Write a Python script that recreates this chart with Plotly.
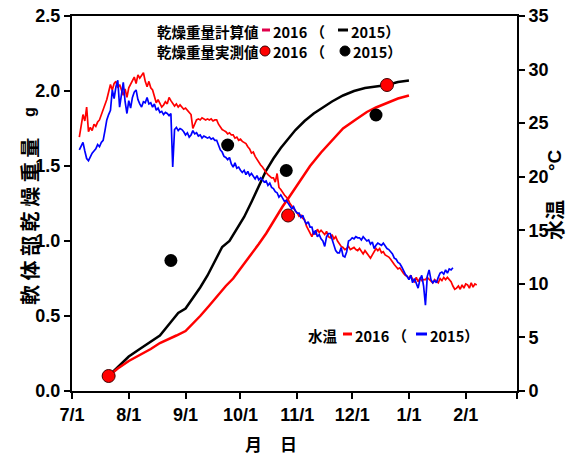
import pandas as pd
import plotly.graph_objects as go

# ---- data -------------------------------------------------------------
BASE = pd.Timestamp("2016-07-01")

# water temperature (°C), daily values starting on 7/5
temp_2016_start = "2016-07-05"
temp_2016 = [
    23.7, 24.6, 25.8, 25.2, 26.5, 24.2, 24.6, 24.3, 24.9, 24.7,
    25.1, 25.3, 25.8, 26.1, 26.6, 27.2, 27.9, 28.6, 28.1, 28.7,
    28.9, 28.3, 28.6, 28.0, 27.6, 28.2, 27.4, 28.3, 28.6, 29.0,
    29.3, 28.7, 29.5, 29.2, 29.4, 29.7, 28.9, 28.4, 28.9, 28.3,
    28.1, 27.6, 26.9, 27.2, 26.8, 26.5, 26.7, 27.0, 26.8, 27.4,
    27.1, 26.9, 26.6, 26.8, 26.5, 26.7, 26.5, 26.3, 26.4, 26.2,
    26.0, 25.8, 24.5, 24.9, 25.3, 25.4, 25.3, 25.5, 25.4, 25.3,
    25.4, 25.3, 25.4, 25.2, 25.3, 25.3, 24.9, 24.6, 24.4, 24.3,
    24.2, 24.0, 24.1, 23.9, 23.9, 23.6, 23.7, 23.4, 23.5, 23.3,
    23.2, 23.1, 22.8, 22.6, 22.2, 22.3, 21.9, 21.6, 21.3, 21.1,
    20.9, 20.6, 20.4, 20.2, 20.0, 19.9, 19.9, 19.5, 20.3, 19.0,
    18.8, 18.5, 18.3, 18.1, 17.9, 17.5, 17.3, 17.0, 16.9, 16.6,
    16.3, 16.4, 16.1, 16.0, 15.4, 15.1, 14.7, 14.4, 14.9, 14.6,
    15.1, 14.8, 15.0, 14.8, 14.6, 14.9, 14.4, 14.3, 14.6, 14.2,
    14.4, 14.0, 13.7, 13.5, 13.4, 13.2, 13.3, 13.5, 13.2, 13.3,
    13.4, 13.2, 13.1, 13.3, 13.0, 12.8, 13.1, 12.9, 12.6, 12.4,
    12.7, 13.0, 13.3, 13.1, 13.3, 12.9, 13.0, 12.7, 12.6, 12.5,
    12.3, 12.0, 11.8, 11.6, 11.4, 11.5, 11.2, 11.0, 10.8, 10.7,
    10.5, 10.8, 10.4, 10.2, 10.6, 10.2, 10.5, 10.3, 10.4, 10.4,
    10.6, 10.4, 10.3, 10.1, 10.4, 10.2, 10.1, 10.5, 10.3, 10.6,
    10.4, 10.6, 10.4, 10.2, 9.8, 9.5, 9.6, 9.8, 9.5, 9.9,
    9.6, 10.0, 9.9, 9.6, 10.1, 9.7, 10.0, 9.9,
]

temp_2015_start = "2016-07-05"
temp_2015 = [
    22.5, 22.9, 23.2, 22.4, 21.7, 21.5, 21.9, 22.2, 22.4, 22.6,
    23.0, 22.8, 23.2, 23.4, 24.3, 25.3, 25.8, 26.2, 28.1, 27.3,
    28.4, 29.0, 26.5, 27.8, 28.8, 27.0, 25.9, 27.1, 26.4, 27.4,
    27.9, 28.1, 27.2, 26.8, 26.5, 27.0, 26.9, 27.4, 26.8, 26.9,
    26.5, 26.8, 26.2, 26.4, 26.0, 26.1, 25.8, 26.0, 25.9, 25.7,
    25.9, 20.9, 24.4, 24.6, 24.3, 24.5, 24.4, 24.2, 23.9, 24.1,
    23.7, 23.9, 24.3, 24.0, 24.1, 23.8, 23.9, 23.6, 23.8, 23.7,
    23.6, 23.7, 23.5, 23.6, 23.4, 23.4, 23.0, 22.5, 22.3, 21.9,
    21.8, 21.6, 21.8, 21.2, 20.9, 21.3, 20.8, 20.9, 20.6, 20.4,
    20.6, 20.2, 20.5, 20.1, 20.3, 20.0, 19.8, 20.1, 19.7, 19.9,
    19.7, 19.5, 19.6, 19.2, 19.4, 19.0, 18.9, 18.6, 18.5, 18.1,
    18.3, 18.0, 17.7, 17.8, 17.5, 17.3, 17.0, 17.2, 16.8, 16.6,
    16.6, 16.2, 16.4, 15.9, 15.6, 15.8, 15.3, 15.3, 14.6, 15.0,
    14.4, 14.6, 14.2, 14.0, 13.5, 14.4, 14.7, 14.7, 14.2, 13.6,
    13.1, 12.9, 12.9, 13.4, 12.6, 12.5, 13.0, 14.0, 14.1, 14.3,
    14.2, 14.4, 14.3, 14.3, 14.1, 14.4, 14.2, 14.0, 14.1, 13.7,
    13.9, 13.3, 13.6, 13.8, 13.7, 13.6, 13.8, 13.5, 13.3, 13.2,
    13.0, 12.8, 12.4, 12.3, 12.0, 11.9, 11.6, 11.2, 10.9, 10.7,
    10.4, 10.8, 10.1, 10.5, 10.1, 9.6, 10.4, 10.8, 9.8, 8.0,
    10.7, 11.3, 10.4, 10.1, 10.3, 10.1, 10.6, 11.0, 11.1, 10.9,
    11.3, 11.0, 11.4, 11.3, 11.5,
]

# calculated dry weight (g): days after 7/1 and values
calc_2015_day = [20, 25, 31, 37, 42, 48, 54, 58, 62, 66, 70, 74, 78, 82, 86, 90,
                 94, 98, 102, 106, 110, 114, 118, 122, 127, 132, 137, 142, 148,
                 154, 160, 166, 172, 178, 184]
calc_2015 = [0.10, 0.16, 0.23, 0.28, 0.32, 0.37, 0.46, 0.52, 0.55, 0.62, 0.69,
             0.77, 0.86, 0.96, 1.00, 1.08, 1.16, 1.26, 1.37, 1.47, 1.55, 1.62,
             1.68, 1.74, 1.80, 1.85, 1.89, 1.93, 1.97, 2.00, 2.02, 2.03, 2.04,
             2.06, 2.07]

calc_2016_day = [20, 25, 31, 37, 43, 48, 52, 57, 62, 66, 70, 75, 79, 84, 88, 93,
                 97, 102, 106, 110, 115, 119, 124, 130, 136, 142, 148, 155, 161,
                 166, 172, 178, 184]
calc_2016 = [0.10, 0.15, 0.20, 0.24, 0.28, 0.32, 0.34, 0.37, 0.40, 0.45, 0.50,
             0.57, 0.63, 0.70, 0.75, 0.83, 0.90, 0.98, 1.05, 1.13, 1.23, 1.30,
             1.39, 1.50, 1.59, 1.67, 1.75, 1.81, 1.86, 1.89, 1.92, 1.95, 1.97]

# measured dry weight (g)
meas_2016_day = [20, 118, 172]
meas_2016 = [0.10, 1.17, 2.04]
meas_2015_day = [54, 85, 117, 166]
meas_2015 = [0.87, 1.64, 1.47, 1.84]

month_ticks = ["2016-07-01", "2016-08-01", "2016-09-01", "2016-10-01", "2016-11-01",
               "2016-12-01", "2017-01-01", "2017-02-01", "2017-03-01"]
month_labels = ["7/1", "8/1", "9/1", "10/1", "11/1", "12/1", "1/1", "2/1", ""]


def to_dates(days):
    return [BASE + pd.Timedelta(days=d) for d in days]


def daily(start, values):
    return pd.date_range(start, periods=len(values), freq="D")


# ---- figure -----------------------------------------------------------
RED = "#ff0000"
BLUE = "#0000ff"
JP = "Noto Sans CJK JP"
AX = "Liberation Sans, Arial"

fig = go.Figure()

fig.add_trace(go.Scatter(x=daily(temp_2016_start, temp_2016), y=temp_2016, yaxis="y2",
                         mode="lines", line=dict(color=RED, width=1.7), showlegend=False))
fig.add_trace(go.Scatter(x=daily(temp_2015_start, temp_2015), y=temp_2015, yaxis="y2",
                         mode="lines", line=dict(color=BLUE, width=1.7), showlegend=False))

fig.add_trace(go.Scatter(x=to_dates(calc_2015_day), y=calc_2015, mode="lines",
                         line=dict(color="black", width=2.5), showlegend=False))
fig.add_trace(go.Scatter(x=to_dates(calc_2016_day), y=calc_2016, mode="lines",
                         line=dict(color=RED, width=2.5), showlegend=False))

fig.add_trace(go.Scatter(x=to_dates(meas_2015_day), y=meas_2015, mode="markers",
                         marker=dict(color="black", size=13), showlegend=False))
fig.add_trace(go.Scatter(x=to_dates(meas_2016_day), y=meas_2016, mode="markers",
                         marker=dict(color=RED, size=13, line=dict(color="#400000", width=1)),
                         showlegend=False))

# plot area in pixels: x 72..517, y 16..391
L, R, T, B = 72, 517, 16, 391


def px(x):
    return (x - L) / (R - L)


def py(y):
    return (B - y) / (B - T)


ann = []


def text(x, y, s, size=15, color="black", weight="normal", angle=0, xanchor="left", family=JP):
    ann.append(dict(x=px(x), y=py(y), xref="paper", yref="paper", text=s, showarrow=False,
                    xanchor=xanchor, yanchor="middle", textangle=angle,
                    font=dict(family=family, size=size, color=color, weight=weight)))


shapes = []


def dash(x0, x1, y, color):
    shapes.append(dict(type="line", xref="paper", yref="paper", x0=px(x0), x1=px(x1),
                       y0=py(y), y1=py(y), line=dict(color=color, width=3)))


def dot(cx, cy, r, color, outline):
    shapes.append(dict(type="circle", xref="paper", yref="paper",
                       x0=px(cx - r), x1=px(cx + r), y0=py(cy + r), y1=py(cy - r),
                       fillcolor=color, line=dict(color=outline, width=1)))


LEG = dict(size=14.5, weight="bold")

# upper legend
text(155, 31, "乾燥重量計算値", **LEG)
dash(262, 270, 30, "#e0004a")
text(271, 31, "2016 （", **LEG)
dash(338, 348, 30, "black")
text(349, 31, "2015）", **LEG)

text(155, 52, "乾燥重量実測値", **LEG)
dot(265, 51, 5, RED, "#400000")
text(271, 52, "2016 （", **LEG)
dot(345, 51, 5, "black", "black")
text(351, 52, "2015）", **LEG)

# lower legend
text(306, 335, "水温", **LEG)
dash(343, 352, 334, RED)
text(353, 335, "2016 （", **LEG)
dash(416, 427, 334, BLUE)
text(428, 335, "2015）", **LEG)

# axis titles
text(29, 222, "軟 体 部 乾 燥 重 量", size=20, weight="bold", angle=-90, xanchor="center")
text(29, 112, "g", size=16, weight="bold", angle=-90, xanchor="center", family=AX)
text(554, 220, "水温", size=20, weight="bold", angle=-90, xanchor="center")
text(554, 160, "°C", size=19, weight="bold", angle=-90, xanchor="center", family=AX)
text(253, 443, "月", size=17, weight="bold", xanchor="center")
text(288, 443, "日", size=17, weight="bold", xanchor="center")

tickfont = dict(family=AX, size=18, color="black", weight="bold")
axis_common = dict(ticks="outside", ticklen=6, tickwidth=2, tickcolor="black",
                   showline=True, linewidth=2, linecolor="black",
                   showgrid=False, zeroline=False, tickfont=tickfont, automargin=False)

fig.update_layout(
    width=574, height=457,
    margin=dict(l=L, r=574 - R, t=T, b=457 - B, autoexpand=False),
    paper_bgcolor="white", plot_bgcolor="white",
    annotations=ann, shapes=shapes,
    xaxis=dict(range=["2016-07-01", "2017-03-01"], tickvals=month_ticks, ticktext=month_labels,
               mirror=True, **axis_common),
    yaxis=dict(range=[0, 2.5], tickvals=[0, 0.5, 1.0, 1.5, 2.0, 2.5], tickformat=".1f",
               **axis_common),
    yaxis2=dict(range=[0, 35], tickvals=[0, 5, 10, 15, 20, 25, 30, 35], overlaying="y",
                side="right", **axis_common),
)

fig.write_html("out.html")
